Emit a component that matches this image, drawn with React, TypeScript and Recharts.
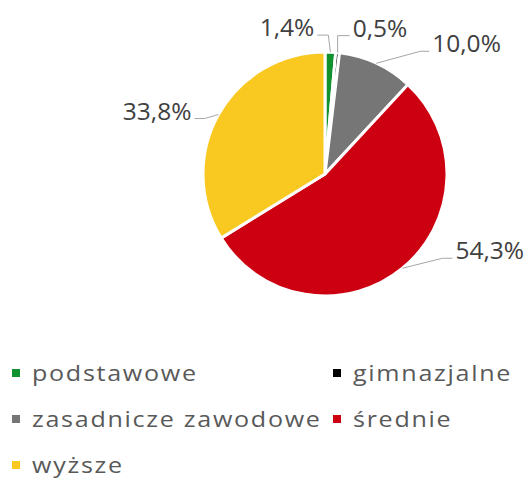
import React from "react";
import { PieChart, Pie, Cell, Legend } from "recharts";

const categories = ["podstawowe", "gimnazjalne", "zasadnicze zawodowe", "średnie", "wyższe"];
const shares = [1.4, 0.5, 10.0, 54.3, 33.8];
const colors = ["#12922F", "#000000", "#767676", "#CC0011", "#F9C922"];

// label leader layout: elbow offset from rim point, horizontal run
const leaderLayout = [
  { dx: -2, dy: -17, run: -11 },
  { dx: 0, dy: -17, run: 12 },
  { dx: 44, dy: -12, run: 9 },
  { dx: 40, dy: -10, run: 10 },
  { dx: -14, dy: 4, run: -10 },
];

const data = categories.map((name, i) => ({ name, value: shares[i] }));

const RAD = Math.PI / 180;
const FONT = "'Open Sans', Lato, sans-serif";

const renderLabel = (props: any) => {
  const { cx, cy, midAngle, outerRadius, index, value } = props;
  const x0 = cx + outerRadius * Math.cos(-midAngle * RAD);
  const y0 = cy + outerRadius * Math.sin(-midAngle * RAD);
  const L = leaderLayout[index];
  const x1 = x0 + L.dx;
  const y1 = y0 + L.dy;
  const x2 = x1 + L.run;
  const right = L.run > 0;
  const tx = x2 + (right ? 3 : -3);
  return (
    <g key={`lbl-${index}`}>
      <polyline
        points={`${x0},${y0} ${x1},${y1} ${x2},${y1}`}
        fill="none"
        stroke="#A6A6A6"
        strokeWidth={1}
      />
      <text
        x={tx}
        y={y1 + 1}
        textAnchor={right ? "start" : "end"}
        fill="#404040"
        fontSize={24.5}
        fontFamily={FONT}
      >
        {value.toFixed(1).replace(".", ",")}%
      </text>
    </g>
  );
};

const renderLegend = () => (
  <div
    style={{
      display: "grid",
      gridTemplateColumns: "321px 190px",
      gridAutoRows: "22px",
      rowGap: 24,
      fontFamily: FONT,
      fontSize: 22,
      lineHeight: 1,
      letterSpacing: 1.5,
      color: "#595959",
    }}
  >
    {data.map((d, i) => (
      <div key={d.name} style={{ display: "flex", alignItems: "center", height: 22, whiteSpace: "nowrap" }}>
        <span
          style={{ display: "inline-block", width: 8, height: 8, background: colors[i], marginRight: 12, flex: "none" }}
        />
        <span
          style={{
            display: "inline-block",
            position: "relative",
            top: -1,
            transform: "scaleX(1.14)",
            transformOrigin: "left center",
          }}
        >
          {d.name}
        </span>
      </div>
    ))}
  </div>
);

export default function App() {
  return (
    <div style={{ position: "fixed", left: 0, top: 0, width: 529, height: 479, background: "#fff" }}>
      <PieChart width={529} height={479} margin={{ top: 0, right: 0, bottom: 0, left: 0 }}>
        <Pie
          data={data}
          dataKey="value"
          nameKey="name"
          cx={325}
          cy={174}
          outerRadius={122}
          startAngle={90}
          endAngle={-270}
          stroke="#FFFFFF"
          strokeWidth={3}
          label={renderLabel}
          labelLine={false}
          isAnimationActive={false}
        >
          {data.map((d, i) => (
            <Cell key={d.name} fill={colors[i]} />
          ))}
        </Pie>
        <Legend
          content={renderLegend}
          wrapperStyle={{ position: "absolute", left: 12, top: 362, width: 517 }}
        />
      </PieChart>
    </div>
  );
}
